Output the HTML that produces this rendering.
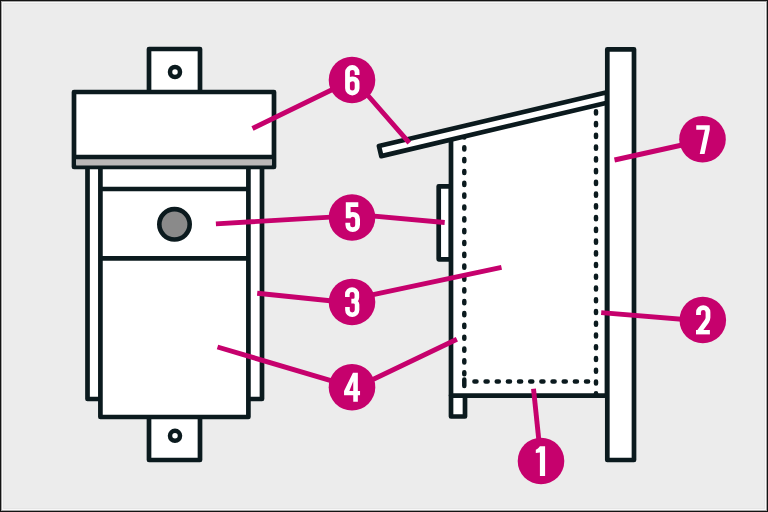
<!DOCTYPE html>
<html><head><meta charset="utf-8"><style>
html,body{margin:0;padding:0;width:768px;height:512px;overflow:hidden;background:#ececec;}
svg{display:block;}
</style></head><body>
<svg width="768" height="512" viewBox="0 0 768 512">
<rect x="0" y="0" width="768" height="512" fill="#131313"/>
<rect x="1" y="1" width="766" height="510" fill="#a4a4a4"/>
<rect x="2" y="2" width="764" height="508" fill="#f9f9f9"/>
<rect x="3" y="3" width="762" height="506" fill="#e6e6e6"/>
<rect x="4" y="4" width="760" height="504" fill="#ececec"/>
<g stroke="#0b1a1e" stroke-width="4.7" stroke-linejoin="round" fill="#fff">
  <!-- left house -->
  <rect x="149" y="49" width="51" height="60"/>
  <circle cx="175" cy="72" r="5" stroke-width="4.5"/>
  <rect x="87.5" y="166.5" width="174.5" height="232.5"/>
  <rect x="149" y="400" width="51" height="60"/>
  <rect x="100.4" y="166.5" width="148" height="250.5"/>
  <circle cx="175" cy="435.8" r="5" stroke-width="4.5"/>
  <path d="M100.4,189H248.4M100.4,258.3H248.4" fill="none"/>
  <circle cx="174.5" cy="224.3" r="15.2" fill="#8a8a8a" stroke-width="4.6"/>
  <rect x="74" y="92" width="200" height="75"/>
  <rect x="76.2" y="158" width="195.6" height="7.5" fill="#bab8b8" stroke="none"/>
  <path d="M74,157H274" fill="none"/>
  <!-- right house -->
  <rect x="438.7" y="186.3" width="12.3" height="73"/>
  <rect x="451" y="395.6" width="14" height="20.9"/>
  <path d="M451,134.3V395.6H607V97.1Z"/>
  <path d="M464.30,147.20V149.40M464.30,159.04V161.24M464.30,170.88V173.08M464.30,182.72V184.92M464.30,194.56V196.76M464.30,206.40V208.60M464.30,218.24V220.44M464.30,230.08V232.28M464.30,241.92V244.12M464.30,253.76V255.96M464.30,265.60V267.80M464.30,277.44V279.64M464.30,289.28V291.48M464.30,301.12V303.32M464.30,312.96V315.16M464.30,324.80V327.00M464.30,336.64V338.84M464.30,348.48V350.68M464.30,360.32V362.52M464.30,372.16V374.36M596.00,111.30V113.40M596.00,123.05V125.15M596.00,134.80V136.90M596.00,146.54V148.64M596.00,158.29V160.39M596.00,170.04V172.14M596.00,181.79V183.89M596.00,193.54V195.64M596.00,205.28V207.38M596.00,217.03V219.13M596.00,228.78V230.88M596.00,240.53V242.63M596.00,252.28V254.38M596.00,264.02V266.12M596.00,275.77V277.87M596.00,287.52V289.62M596.00,299.27V301.37M596.00,311.02V313.12M596.00,322.76V324.86M596.00,334.51V336.61M596.00,346.26V348.36M596.00,358.01V360.11M596.00,369.76V371.86M596.00,381.50V383.60M474.40,381.50H476.50M485.56,381.50H487.66M496.72,381.50H498.82M507.88,381.50H509.98M519.04,381.50H521.14M530.20,381.50H532.30M541.36,381.50H543.46M552.52,381.50H554.62M563.68,381.50H565.78M574.84,381.50H576.94M586.00,381.50H588.10" fill="none" stroke-width="4.5" stroke-linecap="round"/>
  <path d="M464.3,135.4V137.6M464.3,379.5V386" fill="none" stroke-width="4.5" stroke-linecap="round"/>
  <path d="M596,393.2V394.5" fill="none" stroke-width="4.5" stroke-linecap="round"/>
  <path d="M378.93,146.0L607,92.3L607,102.75L381.32,156.1Z"/>
  <rect x="607.3" y="49.3" width="26.7" height="410.7"/>
</g>
<g stroke="#c6016d" stroke-width="4.9" fill="none">
  <path d="M252.5,128.5L352,80M354.4,80L409.3,142.8"/>
  <path d="M215.9,223.9L352,215.9M352,214.1L444.7,222.5"/>
  <path d="M257.2,293.2L352,303M352,299.2L501.5,267.3"/>
  <path d="M217.5,347.0L352,386.9M352,389.5L456.9,339.2"/>
  <path d="M533.5,388.8L541,461"/>
  <path d="M601.2,312.6L702.8,321"/>
  <path d="M614.5,160L702.5,140.5"/>
</g>
<g fill="#c6016d">
  <circle cx="352" cy="80" r="23.3"/>
  <circle cx="352" cy="217.5" r="23.3"/>
  <circle cx="352" cy="302" r="23.3"/>
  <circle cx="352" cy="387.2" r="23.3"/>
  <circle cx="541" cy="461" r="23.3"/>
  <circle cx="702.8" cy="320" r="23.3"/>
  <circle cx="702.5" cy="139.2" r="23.3"/>
</g>
<g fill="none" stroke="#fff" stroke-width="4.8">
  <!-- 6 -->
  <path transform="translate(345.1,65.3)" d="M12,9.7V7A4.6,4.6 0 0 0 2.4,7V22.9A4.8,4.8 0 0 0 12,22.9V18.2C12,15.3 10.6,13.6 7.6,13.6C5.4,13.6 3.6,14.6 2.6,16.4"/>
  <!-- 5 -->
  <path transform="translate(344.9,202.3)" d="M3.3,2.4H13.4M3.3,0V16M3.1,15C4.3,13 6,12.1 8,12.1C11,12.1 12.7,14 12.7,17V22.5A4.9,4.9 0 0 1 2.9,22.5V20.5"/>
  <!-- 3 -->
  <path transform="translate(344.85,287.1)" stroke-width="4.6" d="M2.5,9.8V7.25A4.75,4.75 0 0 1 12,7.25V10.5A3.5,3.5 0 0 1 8.5,14H6.5M8.5,14A3.5,3.5 0 0 1 12.2,17.5V22.8A4.8,4.8 0 0 1 2.6,22.8V20"/>
  <!-- 2 -->
  <path transform="translate(696,305.1)" stroke-linejoin="miter" d="M2.5,9.8V7.25A4.75,4.75 0 0 1 12,7.25V12.3C12,13.8 11.6,15 10.6,16.4L2.6,27.3"/>
  <path transform="translate(696,305.1)" stroke-width="4.4" d="M0,27.1H13.9"/>
</g>
<g fill="#fff">
  <!-- 4 -->
  <path transform="translate(344.75,372.8)" fill-rule="evenodd" d="M8.2,0H13.1V18.3H15.3V22.4H13.1V29H8.5V22.4H-0.7V18.3ZM8.5,8.4V18.3H4.6Z"/>
  <!-- 1 -->
  <path transform="translate(533.15,446.2)" d="M6.75,0H11.95V29.7H6.75V6.2L2.65,6.8V3.6C4,3 5.5,1.6 6.75,0Z"/>
  <!-- 7 -->
  <path transform="translate(695.25,125.2)" d="M1,0H14.5V4.6L9.3,28.7H4.5L9.7,4.5H1Z"/>
</g>
</svg>
</body></html>
